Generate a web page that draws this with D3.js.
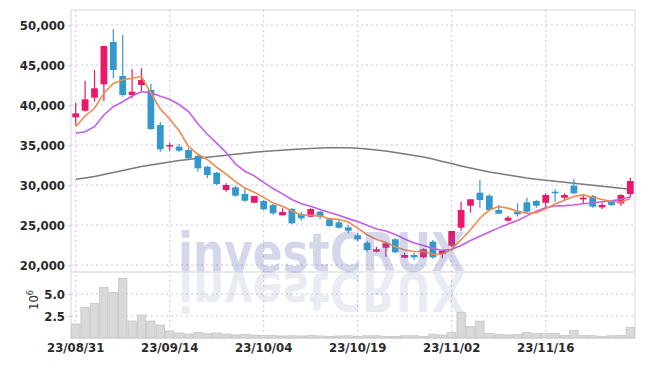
<!DOCTYPE html>
<html><head><meta charset="utf-8">
<script src="https://cdn.jsdelivr.net/npm/d3@7"></script>
<style>
html,body{margin:0;padding:0;background:#fff;}
svg{display:block;}
.ax text{font-family:"DejaVu Sans Condensed","Liberation Sans Narrow",sans-serif;font-size:13px;font-weight:bold;fill:#2a2a2a;}
</style></head>
<body>
<svg id="c" width="645" height="366"></svg>
<script>
const dates = ["23/08/31","23/09/01","23/09/04","23/09/05","23/09/06","23/09/07","23/09/08","23/09/11","23/09/12","23/09/13",
"23/09/14","23/09/15","23/09/18","23/09/19","23/09/20","23/09/21","23/09/22","23/09/25","23/09/26","23/09/27",
"23/10/04","23/10/05","23/10/06","23/10/10","23/10/11","23/10/12","23/10/13","23/10/16","23/10/17","23/10/18",
"23/10/19","23/10/20","23/10/23","23/10/24","23/10/25","23/10/26","23/10/27","23/10/30","23/10/31","23/11/01",
"23/11/02","23/11/03","23/11/06","23/11/07","23/11/08","23/11/09","23/11/10","23/11/13","23/11/14","23/11/15",
"23/11/16","23/11/17","23/11/20","23/11/21","23/11/22","23/11/23","23/11/24","23/11/27","23/11/28","23/11/29"];
const open = [38462,39288,40913,42588,47875,43625,41250,42500,41875,37500,
34938,34788,34375,33625,32288,31538,29375,29713,28875,27788,
28000,27500,26213,27000,26375,26038,26663,25713,25338,24713,
23713,22788,21663,22163,23213,20913,21250,20963,22913,21375,
22413,24663,27413,29038,28663,26875,25538,26663,27838,28000,
27788,29163,28413,29913,28213,28625,27213,27913,27713,28875];
const high = [40288,43038,44375,47400,49463,48750,44463,44588,42625,37875,
35288,35125,34588,33750,32375,31625,30213,29875,29588,28625,
28125,27625,27088,27125,26663,27088,26788,25838,25625,25000,
24038,23038,22288,22913,23338,21538,21538,22088,23125,21875,
24250,27913,28213,30625,28838,27500,26163,27713,28413,28125,
28963,29500,28963,30750,28750,28750,27788,27913,28838,30913];
const low = [37500,39162,40413,40500,43338,41038,40838,41663,36875,34163,
34288,34163,33213,31663,30838,30000,29163,28538,27913,27713,
26875,26250,26213,25088,25538,25963,25713,24788,24538,23963,
23038,21663,21588,21038,21463,20838,20625,20838,20788,20838,
22288,24288,26538,27163,26750,26413,25413,26038,26463,27163,
27213,27913,28125,28838,27713,27163,27000,27375,27413,28463];
const close = [38962,40712,42088,47375,44375,41250,41663,43125,37000,34463,
35000,34288,33338,32088,31250,30125,30000,28663,28038,28625,
26963,26463,26625,25213,25838,27000,26038,24875,24663,24288,
23213,21875,21963,22713,21588,21250,20963,21963,20963,21750,
24250,26875,28213,28125,26875,26413,25913,26338,26663,27413,
28750,28963,28750,28963,28413,27288,27500,27500,28750,30500];
const ma5 = [37288,38625,39588,41463,42702,43160,43350,43558,41483,39500,
38250,36775,34818,33835,33193,32218,31360,30425,29615,29090,
28458,27750,27343,26778,26220,26228,26143,25793,25683,25373,
24615,23783,23200,22810,22270,21878,21695,21695,21345,21378,
21978,23160,24410,25843,26868,27300,27108,26733,26440,26548,
27015,27625,28108,28568,28768,28475,28183,27933,27890,28308];
const ma10 = [36463,36663,37288,38750,39788,40413,41125,41663,41538,41101,
40705,40063,39188,37659,36347,35234,34068,32622,31725,31142,
30338,29555,28884,28197,27655,27343,26947,26568,26230,25797,
25422,24963,24497,24247,23822,23247,22739,22448,22078,21824,
21928,22428,23053,23594,24123,24639,25134,25572,26142,26708,
27158,27367,27420,27504,27658,27745,27904,28020,28229,28538];
const maLong = [30713,30875,31063,31313,31563,31813,32063,32313,32500,32688,
32875,33063,33188,33338,33463,33588,33713,33838,33963,34088,
34188,34275,34350,34438,34500,34563,34625,34650,34663,34650,
34600,34500,34375,34250,34063,33875,33688,33500,33250,32938,
32688,32375,32125,31875,31625,31438,31250,31063,30875,30725,
30588,30463,30338,30213,30088,29963,29838,29713,29588,29438];
const volume = [1.59,3.49,3.94,5.76,5.19,6.78,1.93,2.61,1.93,1.48,
0.80,0.57,0.45,0.64,0.49,0.57,0.45,0.34,0.42,0.34,
0.30,0.30,0.23,0.26,0.23,0.30,0.23,0.19,0.23,0.26,
0.19,0.26,0.26,0.19,0.19,0.26,0.26,0.19,0.42,0.34,
0.64,2.92,1.29,1.93,0.53,0.42,0.34,0.42,0.64,0.49,
0.53,0.53,0.30,0.87,0.30,0.26,0.19,0.26,0.30,1.21];
const priceTicks = [20000,25000,30000,35000,40000,45000,50000];
const volTicks = [2.5,5.0];
const dateTicks = ["23/08/31","23/09/14","23/10/04","23/10/19","23/11/02","23/11/16"];

const svg = d3.select("#c");
const L = 71, R = 635, T = 10, PB = 272, VB = 338;
const x = d3.scaleBand().domain(dates).range([L, R]).padding(0);
const y = d3.scaleLinear().domain([19125, 51875]).range([PB, T]);
const yv = d3.scaleLinear().domain([0, 7.5]).range([VB, PB]);
const cx = d => x(d) + x.bandwidth() / 2;
const UP = "#e8196a", DOWN = "#3399cc";

// grid
const grid = svg.append("g");
grid.selectAll("line.h").data(priceTicks).join("line")
  .attr("x1", L).attr("x2", R).attr("y1", d => y(d)).attr("y2", d => y(d))
  .attr("stroke", "#c8c8dc").attr("stroke-dasharray", "2,3");
grid.selectAll("line.hv").data(volTicks).join("line")
  .attr("x1", L).attr("x2", R).attr("y1", d => yv(d)).attr("y2", d => yv(d))
  .attr("stroke", "#c8c8dc").attr("stroke-dasharray", "2,3");
grid.selectAll("line.v").data(dateTicks).join("line")
  .attr("x1", d => cx(d)).attr("x2", d => cx(d)).attr("y1", T).attr("y2", VB)
  .attr("stroke", "#c8c8dc").attr("stroke-dasharray", "2,3");

// frame
svg.append("rect").attr("x", L).attr("y", T).attr("width", R - L).attr("height", VB - T)
  .attr("fill", "none").attr("stroke", "#d8d8e0");
svg.append("line").attr("x1", L).attr("x2", R).attr("y1", PB).attr("y2", PB).attr("stroke", "#d0d0d8");

// volume
svg.append("g").selectAll("rect").data(dates).join("rect")
  .attr("x", d => x(d) + 0.5).attr("width", x.bandwidth() - 1)
  .attr("y", (d, i) => yv(volume[i])).attr("height", (d, i) => VB - yv(volume[i]))
  .attr("fill", "#d9d9d9").attr("stroke", "#c4c4c4").attr("stroke-width", 0.8);

// MA lines
const line = arr => d3.line().x((d, i) => cx(dates[i])).y(d => y(d))(arr);
svg.append("path").attr("d", line(maLong)).attr("fill", "none").attr("stroke", "#7a7a7a").attr("stroke-width", 1.5);

// candles
const cg = svg.append("g");
const bw = x.bandwidth() * 0.72;
dates.forEach((d, i) => {
  const up = close[i] >= open[i];
  const col = up ? UP : DOWN;
  cg.append("line").attr("x1", cx(d)).attr("x2", cx(d)).attr("y1", y(high[i])).attr("y2", y(low[i]))
    .attr("stroke", col).attr("stroke-width", 1.2);
  const top = y(Math.max(open[i], close[i])), bot = y(Math.min(open[i], close[i]));
  cg.append("rect").attr("x", cx(d) - bw / 2).attr("width", bw)
    .attr("y", top).attr("height", Math.max(1.5, bot - top)).attr("fill", col);
});
svg.append("path").attr("d", line(ma10)).attr("fill", "none").attr("stroke", "#c45ee6").attr("stroke-width", 1.6);
svg.append("path").attr("d", line(ma5)).attr("fill", "none").attr("stroke", "#ef8a50").attr("stroke-width", 1.6);

// watermark
const wm = svg.append("g").attr("pointer-events", "none");
wm.append("text").attr("x", 178).attr("y", 271).text("investCRUX")
  .attr("font-family", "DejaVu Sans").attr("font-weight", "bold").attr("font-size", 54)
  .attr("textLength", 287).attr("lengthAdjust", "spacingAndGlyphs")
  .attr("fill", "#5c6cae").attr("fill-opacity", 0.27);
wm.append("text").attr("x", 178).attr("y", -273).attr("transform", "scale(1,-1)").text("investCRUX")
  .attr("font-family", "DejaVu Sans").attr("font-weight", "bold").attr("font-size", 54)
  .attr("textLength", 287).attr("lengthAdjust", "spacingAndGlyphs")
  .attr("fill", "#5c6cae").attr("fill-opacity", 0.12);

// axes
const ay = svg.append("g").attr("class", "ax").attr("transform", `translate(${L},0)`)
  .call(d3.axisLeft(y).tickValues(priceTicks).tickFormat(d3.format(",")).tickSize(3).tickSizeOuter(0));
ay.select(".domain").remove();
ay.selectAll("line").attr("stroke", "#c8c8dc");
const av = svg.append("g").attr("class", "ax").attr("transform", `translate(${L},0)`)
  .call(d3.axisLeft(yv).tickValues(volTicks).tickFormat(d3.format(".1f")).tickSize(3).tickSizeOuter(0));
av.select(".domain").remove();
av.selectAll("line").attr("stroke", "#c8c8dc");
const ax = svg.append("g").attr("class", "ax").attr("transform", `translate(0,${VB})`)
  .call(d3.axisBottom(x).tickValues(dateTicks).tickSize(0).tickPadding(5));
ax.select(".domain").remove();

const lab = svg.append("text").attr("transform", "translate(38,300) rotate(-90)")
  .attr("text-anchor", "middle").attr("font-family", "DejaVu Sans Condensed, sans-serif")
  .attr("font-size", 13).attr("fill", "#333");
lab.append("tspan").text("10");
lab.append("tspan").attr("dy", -5).attr("font-size", 9).text("6");
</script>
</body></html>
